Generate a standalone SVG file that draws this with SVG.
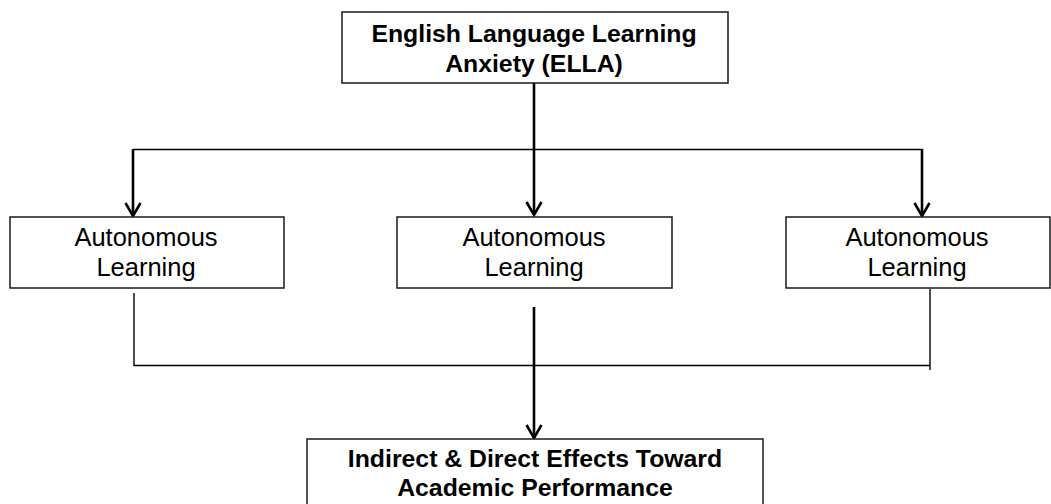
<svg xmlns="http://www.w3.org/2000/svg" width="1051" height="504" viewBox="0 0 1051 504">
<style>
.box{fill:#fff;stroke:#1a1a1a;stroke-width:1.5}
.t{font-family:"Liberation Sans",Arial,sans-serif;font-size:25.5px;fill:#000;text-anchor:middle}
.b{font-weight:bold;font-size:24.8px}
.thick{stroke:#000;stroke-width:2.6;fill:none}
.thin{stroke:#000;stroke-width:1.4;fill:none}
</style>
<defs>
<marker id="ah" markerUnits="userSpaceOnUse" markerWidth="24" markerHeight="24" viewBox="-18 -12 24 24" refX="0" refY="0" orient="auto" overflow="visible">
<path d="M-13,-7.5 L0,0 L-13,7.5" fill="none" stroke="#000" stroke-width="2.6"/>
</marker>
</defs>
<rect width="1051" height="504" fill="#fff"/>
<g id="connectors">
<line class="thick" x1="534" y1="83" x2="534" y2="215" marker-end="url(#ah)"/>
<line class="thin" x1="133" y1="149.5" x2="923" y2="149.5"/>
<line class="thick" x1="133" y1="149" x2="133" y2="216" marker-end="url(#ah)"/>
<line class="thick" x1="922" y1="149" x2="922" y2="216" marker-end="url(#ah)"/>
<line class="thin" x1="134" y1="293" x2="134" y2="365.5"/>
<line class="thin" x1="133.3" y1="365.5" x2="930" y2="365.5"/>
<line class="thin" x1="930" y1="289" x2="930" y2="370"/>
<line class="thick" x1="534" y1="307" x2="534" y2="438" marker-end="url(#ah)"/>
</g>
<g id="node-ella">
<rect class="box" x="342" y="12" width="386" height="71"/>
<text class="t b" x="534" y="42">English Language Learning</text>
<text class="t b" x="534" y="72">Anxiety (ELLA)</text>
</g>
<g id="node-al-left">
<rect class="box" x="10" y="217" width="274" height="71"/>
<text class="t" x="146" y="246">Autonomous</text>
<text class="t" x="146" y="276">Learning</text>
</g>
<g id="node-al-middle">
<rect class="box" x="397" y="217" width="275" height="71"/>
<text class="t" x="534" y="246">Autonomous</text>
<text class="t" x="534" y="276">Learning</text>
</g>
<g id="node-al-right">
<rect class="box" x="786" y="217" width="264" height="71"/>
<text class="t" x="917" y="246">Autonomous</text>
<text class="t" x="917" y="276">Learning</text>
</g>
<g id="node-effects">
<rect class="box" x="307" y="439" width="456" height="80"/>
<text class="t b" x="535" y="467">Indirect &amp; Direct Effects Toward</text>
<text class="t b" x="535" y="496">Academic Performance</text>
</g>
</svg>
